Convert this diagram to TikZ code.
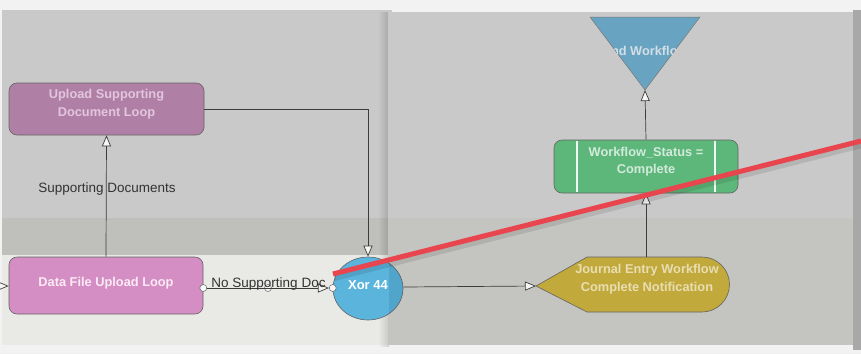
\documentclass[tikz,border=0pt]{standalone}
\usepackage{fontspec}
\setmainfont{Liberation Sans}
\usetikzlibrary{arrows.meta,shapes.geometric,calc}
\definecolor{pagebg}{HTML}{F2F2F2}
\definecolor{lanetop}{HTML}{C9C9C9}
\definecolor{laneband}{HTML}{BFBFBB}
\definecolor{lanelow}{HTML}{E9E9E5}
\definecolor{rpanelup}{HTML}{C9C9C9}
\definecolor{rpanellow}{HTML}{C4C4C0}
\definecolor{redge}{HTML}{A8A8A8}
\definecolor{mauve}{HTML}{B07FA6}
\definecolor{mauvetxt}{HTML}{E2C6DE}
\definecolor{pink}{HTML}{D48EC4}
\definecolor{pinktxt}{HTML}{FBEAF6}
\definecolor{xorblue}{HTML}{5AB4DC}
\definecolor{gold}{HTML}{C2A93C}
\definecolor{goldtxt}{HTML}{E8DEB2}
\definecolor{green}{HTML}{5DB77A}
\definecolor{greentxt}{HTML}{D2EADB}
\definecolor{endblue}{HTML}{68A4C2}
\definecolor{endtxt}{HTML}{D4DEE6}
\definecolor{edgecol}{HTML}{3C3C3C}
\definecolor{redline}{HTML}{E8454E}
\begin{document}
\begin{tikzpicture}[x=1pt,y=-1pt,
  box/.style={draw=edgecol!80, line width=0.6pt, rounded corners=8pt, inner sep=0pt},
  boxtxt/.style={inner sep=0pt, align=center, font=\bfseries\fontsize{12.8}{17.5}\selectfont},
  flow/.style={draw=edgecol, line width=0.7pt, -{Triangle[length=11pt,width=9pt,fill=white!92!gray]}},
  lbl/.style={font=\fontsize{13.5}{15}\selectfont, text=black!80, inner sep=0pt},
  knob/.style={circle, draw=edgecol!80, fill=white!95!gray, line width=0.5pt, inner sep=0pt, minimum size=7pt}]
\useasboundingbox (0,0) rectangle (861,354);
% backgrounds
\fill[pagebg] (0,0) rectangle (861,354);
\fill[lanetop] (2,10) rectangle (392,218);
\fill[laneband] (2,218) rectangle (392,255);
\fill[lanelow] (2,255) rectangle (392,345);
% right panel shadow
\foreach \i in {1,...,10} {\fill[black,opacity=0.012] ({389-\i},12) rectangle (389,347);}
\fill[rpanelup] (388,12) rectangle (853,218);
\fill[rpanellow] (388,218) rectangle (853,345);
\fill[redge] (853,10) rectangle (861,350);
% nodes
\node[box, fill=mauve, minimum width=195pt, minimum height=52pt] (up) at (106.5,109) {};
\node[boxtxt, text=mauvetxt] (uptxt) at (106.5,104) {Upload Supporting\\Document Loop};
\node[box, fill=pink, minimum width=194pt, minimum height=57pt] (data) at (106,285.5) {};
\node[boxtxt, text=pinktxt] (datatxt) at (106,283) {Data File Upload Loop};
\node[ellipse, draw=edgecol!80, line width=0.6pt, fill=xorblue, inner sep=0pt, minimum width=70pt, minimum height=63pt] (xor) at (368,288.5) {};
\begin{scope}
\clip (xor.center) ellipse [x radius=35pt, y radius=31.5pt];
\fill[black, opacity=0.08] (389,250) rectangle (410,325);
\end{scope}
\node[boxtxt, text=white, font=\bfseries\fontsize{13}{15}\selectfont] (xortxt) at (368,285.5) {Xor 44};
\node[box, fill=green, minimum width=184pt, minimum height=53pt] (ws) at (646,166.5) {};
\draw[white!90!green, line width=1.6pt] (577,141) -- (577,192) (715,141) -- (715,192);
\node[boxtxt, text=greentxt] (wstxt) at (646,161.5) {Workflow\_Status =\\Complete};
% journal notification shape
\coordinate (jl) at (536,286);
\coordinate (jt) at (646,257);
\fill[gold, draw=edgecol!80, line width=0.6pt] (jl) -- (587,257) -- (702,257) arc[start angle=90,end angle=-90,radius=27.5pt] -- (587,312) -- cycle;
\node[boxtxt, text=goldtxt] (jn) at (647,279) {Journal Entry Workflow\\Complete Notification};
% end triangle
\coordinate (ea) at (645,90);
\fill[endblue, draw=edgecol!70, line width=0.5pt] (590,17) -- (700,17) -- (ea) -- cycle;
\begin{scope}
\clip (590,17) -- (700,17) -- (ea) -- cycle;
\node[boxtxt, text=endtxt] (en) at (645,51) {End Workflow};
\end{scope}
% connectors
\coordinate (in) at (0,286);
\draw[flow] (in) -- (data.west |- in);
\draw[flow] (data.north) -- (up.south);
\node[lbl] (sd) at (107,189) {Supporting Documents};
\draw[flow] (up.east) -| (xor.north);
\node[knob] (k1) at (data.east |- 0,288) {};
\node[knob] (k3) at (xor.west |- 0,288) {};
\node[knob] (k2) at (268,288) {};
\draw[flow] (k1) -- (k3);
\node[lbl, anchor=base] (nsd) at (268.5,287) {No Supporting Doc};
\draw[flow] (xor.east |- 0,287) -- (jl);
\draw[flow] (jt) -- (ws.south);
\draw[flow] (ws.north) -- (ea);
% red line
\coordinate (r1) at (333,274);
\coordinate (r2) at (861,141);
\draw[black, opacity=0.10, line width=8pt] ($(r1)+(1,3)$) -- ($(r2)+(1,3)$);
\draw[redline, line width=5pt] (r1) -- (r2);
\end{tikzpicture}
\end{document}
